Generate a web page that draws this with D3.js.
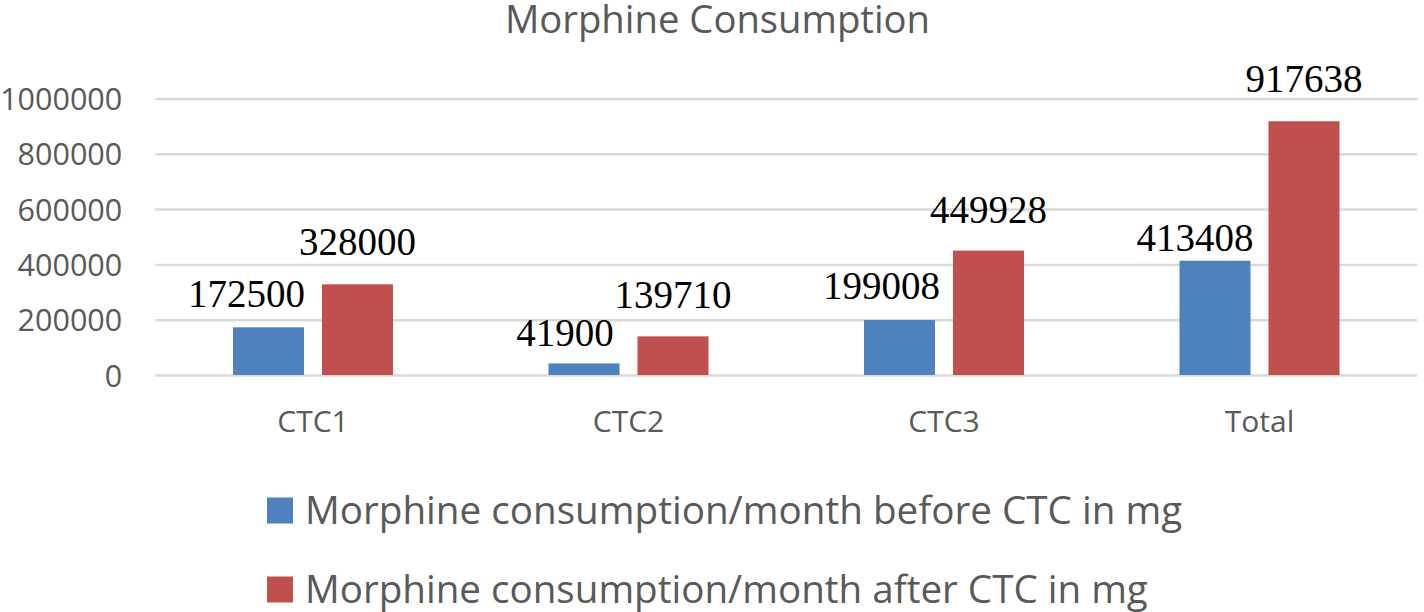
<!DOCTYPE html>
<html>
<head>
<meta charset="utf-8">
<script src="https://cdn.jsdelivr.net/npm/d3@7"></script>
<style>
  html, body { margin: 0; padding: 0; background: #ffffff; }
  svg { display: block; }
</style>
</head>
<body>
<svg id="chart" width="1424" height="612"></svg>
<script>
// ---- Data ----
const categories = ["CTC1", "CTC2", "CTC3", "Total"];
const seriesNames = [
  "Morphine consumption/month before CTC in mg",
  "Morphine consumption/month after CTC in mg"
];
const beforeValues = [172500, 41900, 199008, 413408];
const afterValues = [328000, 139710, 449928, 917638];
const yTicks = [0, 200000, 400000, 600000, 800000, 1000000];
const chartTitle = "Morphine Consumption";

// ---- Layout / styling (not data) ----
const colors = ["#4f81bd", "#c0504d"];
const textGrey = "#595959";
// manual label nudges (as placed in the original)
const beforeLabelShift = [[-22, -20], [-19, -17], [-18, -21], [-20, -10]];
const afterLabelShift = [[0, -29], [0, -28], [0, -28], [0, -29]];

const svg = d3.select("#chart");
const plotLeft = 155.25, plotRight = 1417.25, plotTop = 98.5, plotBottom = 375;

const x0 = d3.scaleBand().domain(categories).range([plotLeft, plotRight]).padding(0);
const x1 = d3.scaleBand().domain([0, 1]).range([0, x0.bandwidth()])
  .paddingInner(0.2022).paddingOuter(0.8736);
const y = d3.scaleLinear().domain([0, 1000000]).range([plotBottom, plotTop]);

// gridlines
const yAxis = d3.axisLeft(y).tickValues(yTicks).tickSize(-(plotRight - plotLeft)).tickFormat(d => d);
const gAxis = svg.append("g").attr("transform", `translate(${plotLeft},0)`).call(yAxis);
gAxis.select(".domain").remove();
gAxis.selectAll(".tick line").attr("stroke", "#d9d9d9").attr("stroke-width", 2.5);
gAxis.selectAll(".tick text")
  .attr("x", -33)
  .attr("dy", null)
  .attr("y", 11)
  .attr("fill", textGrey)
  .style("font-family", "'Open Sans', sans-serif")
  .style("font-size", "30.5px");

// bars
const series = [beforeValues, afterValues];
const groups = svg.append("g").selectAll("g")
  .data(categories)
  .join("g")
  .attr("transform", d => `translate(${x0(d)},0)`);

groups.selectAll("rect")
  .data((c, i) => series.map((s, k) => ({ k, v: s[i] })))
  .join("rect")
  .attr("x", d => x1(d.k))
  .attr("width", x1.bandwidth())
  .attr("y", d => y(d.v))
  .attr("height", d => y(0) - y(d.v))
  .attr("fill", d => colors[d.k]);

// data labels
groups.selectAll("text.lbl")
  .data((c, i) => series.map((s, k) => ({ k, v: s[i], i })))
  .join("text")
  .attr("class", "lbl")
  .attr("x", d => x1(d.k) + x1.bandwidth() / 2 + (d.k === 0 ? beforeLabelShift[d.i][0] : afterLabelShift[d.i][0]))
  .attr("y", d => y(d.v) + (d.k === 0 ? beforeLabelShift[d.i][1] : afterLabelShift[d.i][1]))
  .attr("text-anchor", "middle")
  .attr("fill", "#000")
  .style("font-family", "'Liberation Serif', 'Times New Roman', serif")
  .style("font-size", "39px")
  .text(d => d.v);

// category labels
svg.append("g").selectAll("text")
  .data(categories)
  .join("text")
  .attr("x", d => x0(d) + x0.bandwidth() / 2)
  .attr("y", 432)
  .attr("text-anchor", "middle")
  .attr("fill", textGrey)
  .style("font-family", "'Open Sans', sans-serif")
  .style("font-size", "30px")
  .text(d => d);

function fitWidth(sel, target) {
  const node = sel.node();
  let fs = parseFloat(sel.style("font-size"));
  for (let it = 0; it < 3; it++) {
    const w = node.getComputedTextLength();
    if (w > 0) { fs = fs * target / w; sel.style("font-size", fs + "px"); }
  }
}

// title
const title = svg.append("text")
  .attr("x", 717.5)
  .attr("y", 33)
  .attr("text-anchor", "middle")
  .attr("fill", textGrey)
  .style("font-family", "'Open Sans', sans-serif")
  .style("font-size", "37px")
  .text(chartTitle);
fitWidth(title, 425);

// legend
const legendRows = [
  { y: 510.5, w: 877 },
  { y: 589.5, w: 843 }
];
seriesNames.forEach((name, k) => {
  const row = legendRows[k];
  svg.append("rect")
    .attr("x", 267).attr("y", row.y - 13)
    .attr("width", 26).attr("height", 26)
    .attr("fill", colors[k]);
  const t = svg.append("text")
    .attr("x", 305).attr("y", row.y + 13)
    .attr("fill", textGrey)
    .style("font-family", "'Open Sans', sans-serif")
    .style("font-size", "38px")
    .text(name);
  fitWidth(t, row.w);
});
</script>
</body>
</html>
